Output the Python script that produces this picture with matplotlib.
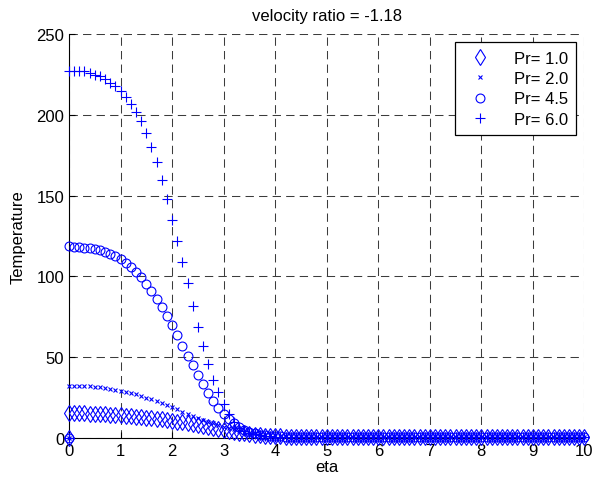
import numpy as np
import matplotlib
matplotlib.use("Agg")
from matplotlib import pyplot as plt

plt.rcParams["font.family"] = ["Liberation Sans", "DejaVu Sans"]

# eta grid (0 to 10, step 0.1); every series also has a leading point at (0, 0)
eta = np.linspace(0, 10, 101)

pr1 = [15.3, 15.3, 15.2, 15.2, 15.1, 15.0, 14.9, 14.7, 14.5, 14.3,
       14.0, 13.8, 13.5, 13.2, 12.9, 12.6, 12.3, 11.9, 11.5, 11.1,
       10.7, 10.2, 9.7, 9.2, 8.7, 8.1, 7.5, 6.9, 6.3, 5.7,
       5.1, 4.5, 3.9, 3.4, 2.9, 2.5, 2.1, 1.8, 1.5, 1.3,
       1.1, 1.0, 0.9, 0.8, 0.8, 0.7, 0.7, 0.7, 0.6, 0.6,
       0.6, 0.6, 0.6, 0.6, 0.6, 0.6, 0.6, 0.6, 0.6, 0.6,
       0.6, 0.6, 0.6, 0.6, 0.6, 0.6, 0.6, 0.6, 0.6, 0.6,
       0.6, 0.6, 0.6, 0.6, 0.6, 0.6, 0.6, 0.6, 0.6, 0.6,
       0.6, 0.6, 0.6, 0.6, 0.6, 0.6, 0.6, 0.6, 0.6, 0.6,
       0.6, 0.6, 0.6, 0.6, 0.6, 0.6, 0.6, 0.6, 0.6, 0.6,
       0.6]
pr2 = [32.5, 32.5, 32.4, 32.3, 32.1, 31.8, 31.5, 31.1, 30.6, 30.0,
       29.4, 28.7, 27.9, 27.0, 26.0, 25.0, 23.9, 22.7, 21.5, 20.2,
       19.0, 17.7, 16.4, 15.1, 13.8, 12.5, 11.3, 10.1, 9.0, 8.0,
       7.0, 6.1, 5.3, 4.6, 3.9, 3.3, 2.8, 2.4, 2.0, 1.7,
       1.5, 1.3, 1.1, 1.0, 0.9, 0.8, 0.7, 0.7, 0.6, 0.6,
       0.6, 0.6, 0.6, 0.6, 0.6, 0.6, 0.6, 0.6, 0.6, 0.6,
       0.6, 0.6, 0.6, 0.6, 0.6, 0.6, 0.6, 0.6, 0.6, 0.6,
       0.6, 0.6, 0.6, 0.6, 0.6, 0.6, 0.6, 0.6, 0.6, 0.6,
       0.6, 0.6, 0.6, 0.6, 0.6, 0.6, 0.6, 0.6, 0.6, 0.6,
       0.6, 0.6, 0.6, 0.6, 0.6, 0.6, 0.6, 0.6, 0.6, 0.6,
       0.6]
pr45 = [118.7, 118.4, 118.1, 117.9, 117.6, 117.1, 116.4, 115.4, 114.2, 112.8,
        111.0, 108.5, 106.0, 103.0, 99.5, 95.5, 91.0, 86.0, 81.0, 75.5,
        70.0, 63.5, 57.0, 51.0, 45.0, 39.0, 33.5, 28.0, 23.0, 18.6,
        15.0, 11.8, 9.0, 6.8, 5.0, 3.8, 2.8, 2.1, 1.6, 1.3,
        1.1, 1.0, 0.9, 0.8, 0.7, 0.7, 0.6, 0.6, 0.6, 0.6,
        0.6, 0.6, 0.6, 0.6, 0.6, 0.6, 0.6, 0.6, 0.6, 0.6,
        0.6, 0.6, 0.6, 0.6, 0.6, 0.6, 0.6, 0.6, 0.6, 0.6,
        0.6, 0.6, 0.6, 0.6, 0.6, 0.6, 0.6, 0.6, 0.6, 0.6,
        0.6, 0.6, 0.6, 0.6, 0.6, 0.6, 0.6, 0.6, 0.6, 0.6,
        0.6, 0.6, 0.6, 0.6, 0.6, 0.6, 0.6, 0.6, 0.6, 0.6,
        0.6]
pr6 = [227, 227, 227, 227, 226, 225, 224, 222, 220, 218,
       215, 211, 207, 202, 196, 189, 180, 171, 160, 148,
       135, 122, 109, 96, 82, 69, 57, 46, 36, 28.5,
       21, 15, 10, 6.5, 4.6, 3.4, 2.5, 1.9, 1.4, 1.1,
       0.9, 0.8, 0.7, 0.6, 0.6, 0.6, 0.6, 0.6, 0.6, 0.6,
       0.6, 0.6, 0.6, 0.6, 0.6, 0.6, 0.6, 0.6, 0.6, 0.6,
       0.6, 0.6, 0.6, 0.6, 0.6, 0.6, 0.6, 0.6, 0.6, 0.6,
       0.6, 0.6, 0.6, 0.6, 0.6, 0.6, 0.6, 0.6, 0.6, 0.6,
       0.6, 0.6, 0.6, 0.6, 0.6, 0.6, 0.6, 0.6, 0.6, 0.6,
       0.6, 0.6, 0.6, 0.6, 0.6, 0.6, 0.6, 0.6, 0.6, 0.6,
       0.6]

labels = ["Pr= 1.0", "Pr= 2.0", "Pr= 4.5", "Pr= 6.0"]
markers = ["d", "x", "o", "+"]
sizes = [8, 3.5, 6.4, 7.5]

fig = plt.figure(figsize=(5.97, 4.81), dpi=100)
ax = fig.add_axes([0.1156, 0.0873, 0.8634, 0.8397])

x = np.concatenate([[0.0], eta])
for ys, m, ms, lab in zip([pr1, pr2, pr45, pr6], markers, sizes, labels):
    y = np.concatenate([[0.0], ys])
    ax.plot(x, y, ls="none", marker=m, ms=ms, color="blue", mfc="none",
            mec="blue", mew=0.8, label=lab, clip_on=False, zorder=3)

ax.set_xlim(0, 10)
ax.set_ylim(0, 250)
ax.set_xticks(range(0, 11))
ax.set_yticks(range(0, 251, 50))
ax.grid(True, color="#3c3c3c", ls=(0, (8, 5)), lw=0.75)
ax.tick_params(direction="in", length=4, labelsize=12, top=False, right=False)
ax.spines["top"].set_visible(False)
ax.spines["right"].set_visible(False)

ax.set_xlabel("eta", fontsize=12, labelpad=1)
ax.set_ylabel("Temperature", fontsize=12, labelpad=8)
ax.set_title("velocity ratio = -1.18", fontsize=12, pad=10)

leg = ax.legend(loc="upper right", fontsize=12, fancybox=False,
                edgecolor="black", framealpha=1, labelspacing=0.32,
                borderaxespad=0.5, borderpad=0.5, handlelength=2.0,
                handletextpad=1.0)
leg.get_frame().set_linewidth(0.9)
leg.set_zorder(5)

fig.savefig("out.png", dpi=100)
